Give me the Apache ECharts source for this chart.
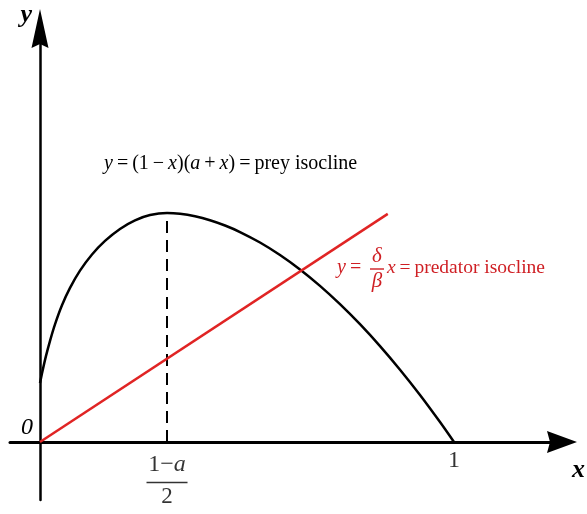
<!DOCTYPE html>
<html>
<head>
<meta charset="utf-8">
<script src="https://cdn.jsdelivr.net/npm/echarts@6/dist/echarts.min.js"></script>
<style>
  html, body { margin: 0; padding: 0; background: #fff; }
  #chart { width: 587px; height: 514px; }
</style>
</head>
<body>
<div id="chart"></div>
<script>
// Prey isocline y = (1 - x)(a + x), sampled along the sketched hump
const preyX = [0, 0.0024, 0.0072, 0.0145, 0.0242, 0.0362, 0.0531, 0.0725, 0.0966, 0.1256,
               0.1570, 0.1932, 0.2295, 0.2657, 0.3068,
               0.3382, 0.3744, 0.4106, 0.4469, 0.4831, 0.5314, 0.5797, 0.6280, 0.6763,
               0.7246, 0.7729, 0.8213, 0.8696, 0.9179, 0.9662, 1];
const preyY = [0.1423, 0.1541, 0.1766, 0.2080, 0.2444, 0.2841, 0.3302, 0.3722, 0.4138, 0.4529,
               0.4857, 0.5147, 0.5353, 0.5481, 0.5531,
               0.5512, 0.5452, 0.5357, 0.5229, 0.5072, 0.4819, 0.4517, 0.4167, 0.3771,
               0.3329, 0.2845, 0.2316, 0.1746, 0.1135, 0.0481, 0];

// Predator isocline y = (delta / beta) x
const predatorX = [0, 0.84];
const predatorY = [0, 0.551];

// Tick labels on the x axis: the hump vertex (1 - a) / 2 and the carrying capacity 1
const tickLabelVertex = ['1\u2212', 'a', '2'];
const tickLabelOne = '1';

const FONT = "'Liberation Serif', 'Times New Roman', serif";
const RED_LINE = '#e02424';
const RED_TEXT = '#cf1f24';

const zip = (xs, ys) => xs.map((x, i) => [x, ys[i]]);

// Hump vertex: x = (1 - a) / 2
let peak = 0;
preyY.forEach((v, i) => { if (v > preyY[peak]) peak = i; });
const vertexX = preyX[peak];
const vertexY = preyY[peak];

const chart = echarts.init(document.getElementById('chart'), null, { renderer: 'canvas' });

const upArrowY = 'path://M8.5,0 L17,39 L8.5,35 L0,39 Z';
const upArrowX = 'path://M11,0 L22,30 L11,27 L0,30 Z';

chart.setOption({
  animation: false,
  backgroundColor: '#fff',
  grid: { left: 10, right: 25, top: 28.5, bottom: 14, containLabel: false, outerBoundsMode: 'none' },
  xAxis: {
    type: 'value',
    min: -30 / 414,
    max: 522 / 414,
    splitLine: { show: false },
    axisTick: { show: false },
    axisLabel: { show: false },
    axisLine: {
      show: true, onZero: true,
      lineStyle: { color: '#000', width: 3 },
      symbol: ['none', upArrowX],
      symbolSize: [22, 30]
    },
    name: 'x',
    nameLocation: 'end',
    nameGap: 10,
    nameTextStyle: {
      fontFamily: FONT, fontStyle: 'italic', fontWeight: 'bold', fontSize: 26, color: '#000',
      verticalAlign: 'top', align: 'left', padding: [15, 0, 0, 0]
    }
  },
  yAxis: {
    type: 'value',
    min: -58 / 414,
    max: 413.5 / 414,
    splitLine: { show: false },
    axisTick: { show: false },
    axisLabel: { show: false },
    axisLine: {
      show: true, onZero: true,
      lineStyle: { color: '#000', width: 2.5 },
      symbol: ['none', upArrowY],
      symbolSize: [17, 39]
    },
    name: 'y',
    nameLocation: 'end',
    nameGap: 13,
    nameTextStyle: {
      fontFamily: FONT, fontStyle: 'italic', fontWeight: 'bold', fontSize: 26, color: '#000',
      align: 'right', verticalAlign: 'middle', padding: [0, 8, 0, 0]
    }
  },
  series: [
    {
      name: 'prey isocline',
      type: 'line',
      data: zip(preyX, preyY),
      smooth: 0.25,
      showSymbol: false,
      lineStyle: { color: '#000', width: 2.5 },
      z: 3
    },
    {
      name: 'predator isocline',
      type: 'line',
      data: zip(predatorX, predatorY),
      showSymbol: false,
      lineStyle: { color: RED_LINE, width: 2.5 },
      z: 4
    },
    {
      name: 'vertex',
      type: 'line',
      data: [[vertexX, 0], [vertexX, vertexY]],
      showSymbol: false,
      lineStyle: { color: '#000', width: 2, type: [12, 7] },
      z: 2
    },
    {
      // tick labels sitting under the x axis line
      name: 'x ticks',
      type: 'scatter',
      data: [[vertexX, 0], [1, 0]],
      symbolSize: 0,
      silent: true,
      label: {
        show: true,
        position: 'bottom',
        distance: 7,
        color: '#000',
        formatter: function (p) {
          if (p.dataIndex === 1) return '{one|' + tickLabelOne + '}';
          return '{num|' + tickLabelVertex[0] + '}{numi|' + tickLabelVertex[1] + '}\n{bar| }\n{den|' + tickLabelVertex[2] + '}';
        },
        rich: {
          one: { fontFamily: FONT, fontSize: 24, lineHeight: 24, color: '#000' },
          num: { fontFamily: FONT, fontSize: 24, lineHeight: 31, color: '#000' },
          numi: { fontFamily: FONT, fontSize: 24, lineHeight: 31, fontStyle: 'italic', color: '#000' },
          bar: { fontSize: 1, width: 41, height: 1.6, lineHeight: 5, backgroundColor: '#000', verticalAlign: 'middle' },
          den: { fontFamily: FONT, fontSize: 23, lineHeight: 24, color: '#000' }
        }
      }
    }
  ],
  graphic: [
    {
      type: 'text', left: 21, top: 416,
      style: { text: '0', font: 'italic 24px ' + FONT, fill: '#000' }
    },
    {
      type: 'text', x: 104, y: 164,
      style: {
        text: '{i|y}\u2009=\u2009(1\u2009\u2212\u2009{i|x})({i|a}\u2009+\u2009{i|x})\u2009=\u2009prey isocline',
        font: '20px ' + FONT, fill: '#000', verticalAlign: 'middle', align: 'left',
        rich: { i: { fontStyle: 'italic', fontFamily: FONT, fontSize: 20 } }
      }
    },
    {
      type: 'text', x: 337, y: 268,
      style: {
        text: '{i|y}\u2009=\u2009',
        font: '20px ' + FONT, fill: RED_TEXT, verticalAlign: 'middle', align: 'left',
        rich: { i: { fontStyle: 'italic', fontFamily: FONT, fontSize: 20, fill: RED_TEXT } }
      }
    },
    {
      type: 'text', x: 377, y: 269,
      style: {
        text: '{g|\u03b4}\n{bar| }\n{g|\u03b2}',
        fill: RED_TEXT, verticalAlign: 'middle', align: 'center',
        rich: {
          g: { fontFamily: FONT, fontStyle: 'italic', fontSize: 21, lineHeight: 21, fill: RED_TEXT, align: 'center' },
          bar: { fontSize: 1, width: 14, height: 1.4, lineHeight: 4, backgroundColor: RED_TEXT, align: 'center' }
        }
      }
    },
    {
      type: 'text', x: 387, y: 268,
      style: {
        text: '{i|x}\u2009=\u2009predator isocline',
        font: '19.5px ' + FONT, fill: RED_TEXT, verticalAlign: 'middle', align: 'left',
        rich: { i: { fontStyle: 'italic', fontFamily: FONT, fontSize: 19.5, fill: RED_TEXT } }
      }
    }
  ]
});
</script>
</body>
</html>
